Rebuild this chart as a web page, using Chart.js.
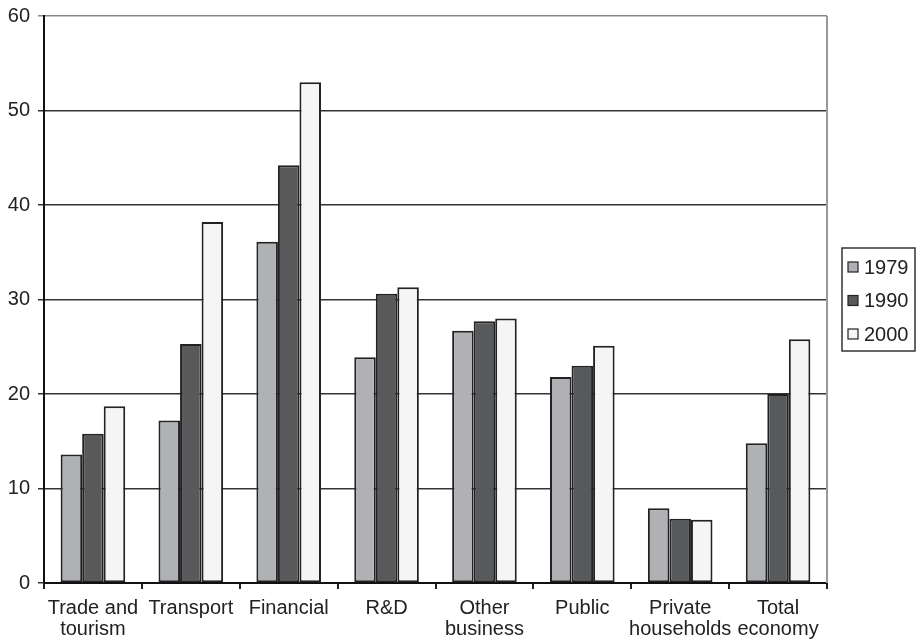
<!DOCTYPE html>
<html>
<head>
<meta charset="utf-8">
<script src="https://cdn.jsdelivr.net/npm/chart.js@4/dist/chart.umd.min.js"></script>
<style>
  html, body { margin: 0; padding: 0; background: #fff; }
  #wrap { width: 920px; height: 642px; position: relative; }
</style>
</head>
<body>
<div id="wrap"><canvas id="chart"></canvas></div>
<script>
// categories and series
var categories = [
    ['Trade and', 'tourism'], 'Transport', 'Financial', 'R&D',
    ['Other', 'business'], 'Public', ['Private', 'households'], ['Total', 'economy']
];
var years = ['1979', '1990', '2000'];
var values1979 = [13.6, 17.2, 36.1, 23.9, 26.7, 21.8, 7.9, 14.8];
var values1990 = [15.8, 25.3, 44.2, 30.6, 27.7, 23.0, 6.8, 20.0];
var values2000 = [18.7, 38.2, 53.0, 31.3, 28.0, 25.1, 6.7, 25.8];
var yTicks = [0, 10, 20, 30, 40, 50, 60];

var colors = ['#b0b1b4', '#58595b', '#f5f5f5'];
var fontFamily = '"Liberation Sans", Arial, Helvetica, sans-serif';
var textColor = '#222';

// legend with a frame, and the grey right edge of the plot
var boxLegend = {
    id: 'boxLegend',
    afterDraw: function (chart) {
        var ctx = chart.ctx;
        var area = chart.chartArea;

        ctx.save();
        ctx.strokeStyle = '#999';
        ctx.lineWidth = 2;
        ctx.beginPath();
        ctx.moveTo(area.right, area.top);
        ctx.lineTo(area.right, area.bottom);
        ctx.stroke();

        var w = 73, h = 103;
        var left = area.right + 15;
        var top = (area.top + area.bottom) / 2 - h / 2;
        ctx.strokeStyle = '#333';
        ctx.lineWidth = 1.5;
        ctx.strokeRect(left, top, w, h);

        ctx.font = '20px ' + fontFamily;
        ctx.textBaseline = 'middle';
        ctx.textAlign = 'left';
        chart.data.datasets.forEach(function (ds, i) {
            var cy = top + 19 + i * 33.5;
            ctx.fillStyle = ds.backgroundColor;
            ctx.fillRect(left + 6, cy - 5, 10, 10);
            ctx.strokeStyle = '#222';
            ctx.lineWidth = 1.2;
            ctx.strokeRect(left + 6, cy - 5, 10, 10);
            ctx.fillStyle = textColor;
            ctx.fillText(ds.label, left + 22, cy + 1);
        });
        ctx.restore();
    }
};

var ctx = document.getElementById('chart').getContext('2d');
var chart = new Chart(ctx, {
    type: 'bar',
    data: {
        labels: categories,
        datasets: [
            { label: years[0], data: values1979, backgroundColor: colors[0] },
            { label: years[1], data: values1990, backgroundColor: colors[1] },
            { label: years[2], data: values2000, backgroundColor: colors[2] }
        ]
    },
    options: {
        responsive: true,
        maintainAspectRatio: false,
        animation: false,
        devicePixelRatio: 1,
        layout: { padding: { left: 0, right: 93, top: 16, bottom: 0 } },
        datasets: {
            bar: {
                borderColor: '#222',
                borderWidth: 2,
                borderSkipped: false,
                barPercentage: 1,
                categoryPercentage: 0.66
            }
        },
        plugins: {
            legend: { display: false },
            tooltip: { enabled: false }
        },
        scales: {
            x: {
                offset: true,
                afterFit: function (scale) {
                    scale.height = 59;
                },
                grid: {
                    offset: true,
                    drawOnChartArea: false,
                    drawTicks: true,
                    tickLength: 6,
                    color: '#222',
                    lineWidth: 2
                },
                border: { display: true, color: '#111', width: 2 },
                ticks: {
                    color: textColor,
                    padding: 9,
                    maxRotation: 0,
                    autoSkip: false,
                    font: { family: fontFamily, size: 20, lineHeight: 1.05 }
                }
            },
            y: {
                min: yTicks[0],
                max: yTicks[yTicks.length - 1],
                afterBuildTicks: function (axis) {
                    axis.ticks = yTicks.map(function (v) { return { value: v }; });
                },
                afterFit: function (scale) {
                    scale.width = 44;
                    scale.paddingTop = 0;
                    scale.paddingBottom = 0;
                },
                grid: {
                    color: function (c) {
                        return c.tick && c.tick.value === 60 ? '#888' : '#333';
                    },
                    lineWidth: 1.5,
                    tickLength: 6
                },
                border: { display: true, color: '#111', width: 2 },
                ticks: {
                    color: textColor,
                    padding: 8,
                    font: { family: fontFamily, size: 20 }
                }
            }
        }
    },
    plugins: [boxLegend]
});
</script>
</body>
</html>
